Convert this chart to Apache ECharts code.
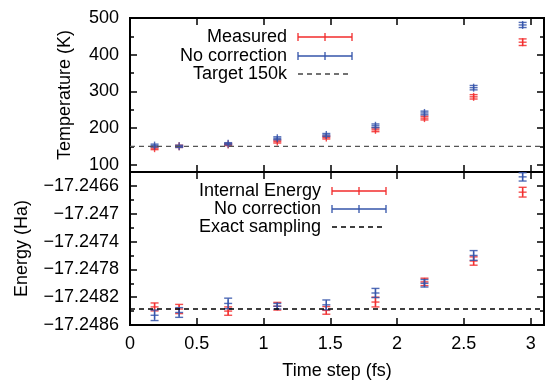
<!DOCTYPE html>
<html>
<head>
<meta charset="utf-8">
<script src="https://cdn.jsdelivr.net/npm/echarts@6/dist/echarts.min.js"></script>
<style>
  html, body { margin: 0; padding: 0; background: #fff; }
  #main { width: 545px; height: 381px; }
</style>
</head>
<body>
<div id="main"></div>
<script>
// time step (fs)
var timeStep = [0.184, 0.368, 0.735, 1.103, 1.47, 1.838, 2.205, 2.573, 2.94];

// temperature panel (K)
var tempMeasured    = [145, 150, 155, 163, 174, 195, 227, 285, 434];
var tempMeasuredErr = [4, 3, 3, 4, 4, 5, 5, 6, 9];
var tempNoCorr      = [152, 150, 157, 172, 181, 206, 241, 310, 481];
var tempNoCorrErr   = [4, 3, 3, 4, 4, 5, 5, 6, 7];
var targetTemp = 150;

// energy panel (Ha)
var energyInternal    = [-17.24834, -17.24837, -17.24840, -17.24833, -17.24839, -17.24827, -17.24798, -17.24768, -17.24669];
var energyInternalErr = [0.000057, 0.000066, 0.00006, 0.000055, 0.000055, 0.00007, 0.000053, 0.00006, 0.00007];
var energyNoCorr      = [-17.24846, -17.24842, -17.24829, -17.24833, -17.24831, -17.24814, -17.24800, -17.24760, -17.24647];
var energyNoCorrErr   = [0.000076, 0.00007, 0.000076, 0.00004, 0.00007, 0.000066, 0.000054, 0.00007, 0.00006];
var exactEnergy = -17.24837;

// ticks
var xTicks = [0, 0.5, 1, 1.5, 2, 2.5, 3];
var tempTicks = [100, 200, 300, 400, 500];
var tempMinor = [100, 150, 200, 250, 300, 350, 400, 450, 500];
var energyTicks = [-17.2486, -17.2482, -17.2478, -17.2474, -17.247, -17.2466];
var energyMinor = [-17.2486, -17.2484, -17.2482, -17.248, -17.2478, -17.2476, -17.2474, -17.2472, -17.247, -17.2468, -17.2466, -17.2464];

var FONT = 'Liberation Sans';
var RED = '#f22b2b';
var BLUE = '#3454aa';

var chart = echarts.init(document.getElementById('main'), null, { renderer: 'canvas' });

function xAxisFor(grid, pos, showLabels) {
  return {
    type: 'value', gridIndex: grid, position: pos, min: 0, max: 3.1,
    axisLine: { show: false },
    splitLine: { show: false },
    axisTick: { inside: true, length: 7, customValues: xTicks, lineStyle: { color: '#000', width: 1.5 } },
    axisLabel: {
      show: showLabels, customValues: xTicks, margin: 10,
      color: '#000', fontFamily: FONT, fontSize: 18
    },
    name: showLabels ? 'Time step (fs)' : '',
    nameLocation: 'middle', nameGap: 37,
    nameTextStyle: { color: '#000', fontFamily: FONT, fontSize: 18 }
  };
}

function yAxisFor(grid, pos, min, max, ticks, len, labels, name, gap, fmt) {
  return {
    type: 'value', gridIndex: grid, position: pos, min: min, max: max,
    axisLine: { show: false },
    splitLine: { show: false },
    axisTick: { inside: true, length: len, customValues: ticks, lineStyle: { color: '#000', width: 1.5 } },
    axisLabel: {
      show: labels, customValues: ticks, margin: 11,
      color: '#000', fontFamily: FONT, fontSize: 18,
      formatter: fmt
    },
    name: name || '',
    nameLocation: 'middle', nameGap: gap || 0,
    nameTextStyle: { color: '#000', fontFamily: FONT, fontSize: 18 }
  };
}

function errorSeries(name, color, xIdx, yIdx, values, errors) {
  var data = [];
  for (var i = 0; i < timeStep.length; i++) {
    data.push([timeStep[i], values[i], errors[i]]);
  }
  return {
    name: name, type: 'custom', xAxisIndex: xIdx, yAxisIndex: yIdx,
    data: data, encode: { x: 0, y: 1 }, clip: false,
    renderItem: function (params, api) {
      var x = api.value(0), y = api.value(1), e = api.value(2);
      var c = api.coord([x, y]);
      var lo = api.coord([x, y - e]);
      var hi = api.coord([x, y + e]);
      var s = { stroke: color, lineWidth: 1.4, opacity: 0.85 };
      function seg(x1, y1, x2, y2) {
        return { type: 'line', shape: { x1: x1, y1: y1, x2: x2, y2: y2 }, style: s };
      }
      return {
        type: 'group',
        children: [
          seg(c[0], lo[1], c[0], hi[1]),
          seg(c[0] - 4, lo[1], c[0] + 4, lo[1]),
          seg(c[0] - 4, hi[1], c[0] + 4, hi[1]),
          seg(c[0] - 4, c[1], c[0] + 4, c[1]),
          seg(c[0], c[1] - 4, c[0], c[1] + 4)
        ]
      };
    }
  };
}

function refLine(name, xIdx, yIdx, value, color) {
  return {
    name: name, type: 'line', xAxisIndex: xIdx, yAxisIndex: yIdx,
    data: [[0, value], [3.1, value]],
    showSymbol: false, silent: true,
    lineStyle: { color: color, width: 1.3, type: [5, 4] }
  };
}

// legend rows drawn by hand (error-bar style samples)
function legendRow(textRight, y, label, color, x1, x2, dashed) {
  var items = [{
    type: 'text', x: textRight, y: y,
    style: { text: label, fill: '#000', font: '18px "' + FONT + '"', textAlign: 'right', textVerticalAlign: 'middle' }
  }];
  var st = { stroke: color, lineWidth: 1.3 };
  if (dashed) {
    items.push({ type: 'line', shape: { x1: x1, y1: y, x2: x2, y2: y }, style: { stroke: color, lineWidth: 1.3, lineDash: [5, 4] } });
  } else {
    var mid = (x1 + x2) / 2;
    items.push({ type: 'line', shape: { x1: x1, y1: y, x2: x2, y2: y }, style: st });
    items.push({ type: 'line', shape: { x1: x1, y1: y - 4, x2: x1, y2: y + 4 }, style: st });
    items.push({ type: 'line', shape: { x1: x2, y1: y - 4, x2: x2, y2: y + 4 }, style: st });
    items.push({ type: 'line', shape: { x1: mid, y1: y - 4, x2: mid, y2: y + 4 }, style: st });
  }
  return items;
}

// gnuplot-style wide minus sign
var energyFmt = function (v) {
  return String(parseFloat(Number(v).toFixed(4))).replace('-', '\u2212');
};

var graphics = []
  .concat(legendRow(287, 37, 'Measured', RED, 298, 352, false))
  .concat(legendRow(287, 56, 'No correction', BLUE, 298, 352, false))
  .concat(legendRow(287, 74, 'Target 150k', '#444', 298, 352, true))
  .concat(legendRow(321, 191, 'Internal Energy', RED, 332, 386, false))
  .concat(legendRow(321, 209, 'No correction', BLUE, 332, 386, false))
  .concat(legendRow(321, 227, 'Exact sampling', '#000', 332, 386, true));

var option = {
  animation: false,
  backgroundColor: '#fff',
  grid: [
    { left: 130, right: 1, top: 18, height: 154, show: true, borderColor: '#000', borderWidth: 2, backgroundColor: 'transparent' },
    { left: 130, right: 1, top: 172, height: 154, show: true, borderColor: '#000', borderWidth: 2, backgroundColor: 'transparent' }
  ],
  xAxis: [
    xAxisFor(0, 'bottom', false),
    xAxisFor(0, 'top', false),
    xAxisFor(1, 'bottom', true),
    xAxisFor(1, 'top', false)
  ],
  yAxis: [
    yAxisFor(0, 'left', 80, 500, tempTicks, 7, true, 'Temperature (K)', 56),
    yAxisFor(0, 'left', 80, 500, tempMinor, 4, false),
    yAxisFor(0, 'right', 80, 500, tempTicks, 7, false),
    yAxisFor(0, 'right', 80, 500, tempMinor, 4, false),
    yAxisFor(1, 'left', -17.2486, -17.2464, energyTicks, 7, true, 'Energy (Ha)', 99, energyFmt),
    yAxisFor(1, 'left', -17.2486, -17.2464, energyMinor, 4, false),
    yAxisFor(1, 'right', -17.2486, -17.2464, energyTicks, 7, false),
    yAxisFor(1, 'right', -17.2486, -17.2464, energyMinor, 4, false)
  ],
  series: [
    refLine('Target 150k', 0, 0, targetTemp, '#555'),
    errorSeries('Measured', RED, 0, 0, tempMeasured, tempMeasuredErr),
    errorSeries('No correction', BLUE, 0, 0, tempNoCorr, tempNoCorrErr),
    refLine('Exact sampling', 2, 4, exactEnergy, '#000'),
    errorSeries('Internal Energy', RED, 2, 4, energyInternal, energyInternalErr),
    errorSeries('No correction', BLUE, 2, 4, energyNoCorr, energyNoCorrErr)
  ],
  graphic: graphics
};

chart.setOption(option);
</script>
</body>
</html>
